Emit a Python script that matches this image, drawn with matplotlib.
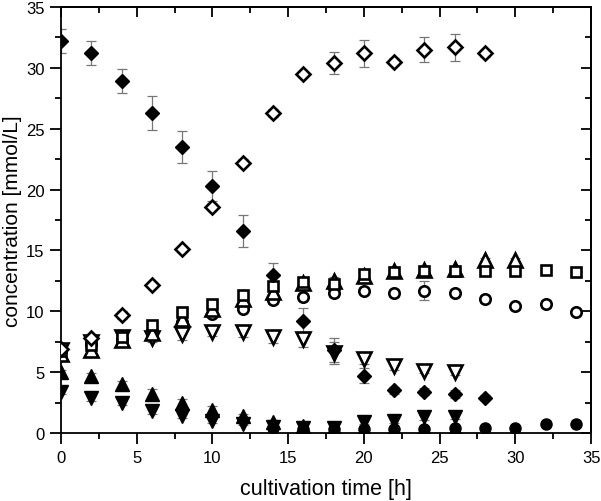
import matplotlib
matplotlib.use("Agg")
import matplotlib.pyplot as plt
from matplotlib.ticker import MultipleLocator

plt.rcParams['font.family'] = ['Liberation Sans', 'DejaVu Sans']

# --- data ---------------------------------------------------------------
t_fd = [0, 2, 4, 6, 8, 10, 12, 14, 16, 18, 20, 22, 24, 26, 28]
fd = [32.2, 31.2, 28.9, 26.3, 23.5, 20.3, 16.6, 13.0, 9.2, 6.8, 4.7, 3.5, 3.4, 3.2, 2.9]
fd_err = [1.0, 1.0, 1.0, 1.4, 1.3, 1.2, 1.3, 1.0, 1.1, 1.0, 0.6, 0.3, 0.3, 0.3, 0.2]

t_od = [0, 2, 4, 6, 8, 10, 12, 14, 16, 18, 20, 22, 24, 26, 28]
od = [6.9, 7.8, 9.7, 12.2, 15.1, 18.6, 22.2, 26.3, 29.5, 30.4, 31.2, 30.5, 31.5, 31.7, 31.2]
od_err = [0.2, 0.3, 0.3, 0.2, 0.2, 0.3, 0.3, 0.3, 0.2, 0.9, 1.1, 0.3, 1.0, 1.1, 0.3]

t_sq = [0, 2, 4, 6, 8, 10, 12, 14, 16, 18, 20, 22, 24, 26, 28, 30, 32, 34]
sq = [6.7, 7.2, 7.85, 8.9, 9.9, 10.6, 11.3, 12.1, 12.4, 12.25, 13.1, 13.2, 13.3, 13.3, 13.3, 13.3, 13.4, 13.2]
sq_err = [0.3, 0.3, 0.3, 0.3, 0.3, 0.3, 0.3, 0.3, 0.3, 0.3, 0.3, 0.3, 0.4, 0.3, 0.3, 0.4, 0.3, 0.4]

t_tu = [0, 2, 4, 6, 8, 10, 12, 14, 16, 18, 20, 22, 24, 26, 28, 30]
tu = [6.5, 6.8, 7.6, 8.2, 9.4, 10.2, 11.0, 11.6, 12.3, 12.5, 12.9, 13.3, 13.4, 13.45, 14.2, 14.2]
tu_err = [0.3, 0.3, 0.3, 0.3, 0.3, 0.3, 0.3, 0.3, 0.3, 0.3, 0.3, 0.3, 0.3, 0.3, 0.2, 0.2]

t_oc = [0, 2, 4, 6, 8, 10, 12, 14, 16, 18, 20, 22, 24, 26, 28, 30, 32, 34]
oc = [6.7, 7.3, 7.7, 8.4, 9.1, 9.8, 10.2, 10.9, 11.2, 11.5, 11.7, 11.5, 11.7, 11.5, 11.0, 10.4, 10.6, 9.9]
oc_err = [0.3, 0.3, 0.3, 0.3, 0.3, 0.3, 0.3, 0.3, 0.3, 0.3, 0.3, 0.3, 0.8, 0.3, 0.3, 0.3, 0.3, 0.3]

t_td = [0, 2, 4, 6, 8, 10, 12, 14, 16, 18, 20, 22, 24, 26]
td = [6.8, 7.5, 7.85, 7.8, 8.1, 8.3, 8.3, 7.9, 7.7, 6.6, 6.1, 5.5, 5.1, 5.0]
td_err = [0.3, 0.3, 0.3, 0.3, 0.5, 0.3, 0.4, 0.5, 0.6, 0.9, 0.4, 0.3, 0.2, 0.2]

t_ftu = [0, 2, 4, 6, 8, 10, 12, 14, 16, 18, 20, 22, 24, 26]
ftu = [5.0, 4.65, 4.0, 3.2, 2.5, 1.9, 1.4, 0.9, 0.6, 0.4, 0.3, 0.3, 0.3, 0.3]
ftu_err = [0.2, 0.3, 0.3, 0.4, 0.3, 0.3, 0.2, 0.2, 0.1, 0.1, 0.1, 0.1, 0.1, 0.1]

t_ftd = [0, 2, 4, 6, 8, 10, 12, 14, 16, 18, 20, 22, 24, 26]
ftd = [3.4, 2.85, 2.5, 1.8, 1.4, 1.0, 0.75, 0.5, 0.4, 0.4, 0.9, 1.0, 1.3, 1.35]
ftd_err = [0.2, 0.2, 0.2, 0.2, 0.2, 0.2, 0.1, 0.1, 0.1, 0.1, 0.2, 0.2, 0.2, 0.2]

t_fc = [14, 16, 18, 20, 22, 24, 26, 28, 30, 32, 34]
fc = [0.4, 0.35, 0.3, 0.3, 0.33, 0.35, 0.4, 0.4, 0.45, 0.7, 0.75]
fc_err = [0.1, 0.1, 0.1, 0.1, 0.1, 0.1, 0.1, 0.1, 0.1, 0.1, 0.1]

xticks = [0, 5, 10, 15, 20, 25, 30, 35]
yticks = [0, 5, 10, 15, 20, 25, 30, 35]

# --- figure -------------------------------------------------------------
fig = plt.figure(figsize=(6.01, 5.02), dpi=100)
ax = fig.add_axes([0.1015, 0.1355, 0.882, 0.8485])

ecol = '#777777'
err_kw = dict(fmt='none', ecolor=ecol, elinewidth=0.9, capsize=3.5, capthick=0.9, zorder=2)
open_kw = dict(linestyle='none', markerfacecolor='white', markeredgecolor='black', markeredgewidth=1.9)
fill_kw = dict(linestyle='none', markerfacecolor='black', markeredgecolor='black', markeredgewidth=1.0)

series = [
    (t_fc, fc, fc_err, 'o', 8, fill_kw),
    (t_ftu, ftu, ftu_err, '^', 9.5, fill_kw),
    (t_ftd, ftd, ftd_err, 'v', 9.5, fill_kw),
    (t_oc, oc, oc_err, 'o', 7.5, open_kw),
    (t_td, td, td_err, 'v', 9.5, open_kw),
    (t_tu, tu, tu_err, '^', 9.5, open_kw),
    (t_sq, sq, sq_err, 's', 6.5, open_kw),
    (t_od, od, od_err, 'D', 7.5, open_kw),
    (t_fd, fd, fd_err, 'D', 7.5, fill_kw),
]
for i, (tx, yv, ye, mk, ms, kw) in enumerate(series):
    ax.errorbar(tx, yv, yerr=ye, **err_kw)
for i, (tx, yv, ye, mk, ms, kw) in enumerate(series):
    ax.plot(tx, yv, marker=mk, markersize=ms, zorder=3 + i * 0.1, **kw)

ax.set_xlim(0, 35)
ax.set_ylim(0, 35)
ax.set_xticks(xticks)
ax.set_yticks(yticks)
ax.xaxis.set_minor_locator(MultipleLocator(2.5))
ax.yaxis.set_minor_locator(MultipleLocator(2.5))
for s in ax.spines.values():
    s.set_linewidth(1.3)
ax.tick_params(which='major', direction='out', length=8, width=1.3, labelsize=12, pad=4)
ax.tick_params(which='minor', direction='out', length=4.5, width=1.3)

# mirrored inward ticks on top and right
axt = ax.secondary_xaxis('top')
axt.set_xticks(xticks)
axt.xaxis.set_minor_locator(MultipleLocator(2.5))
axt.tick_params(which='major', direction='in', length=7, width=1.3, labeltop=False)
axt.tick_params(which='minor', direction='in', length=4, width=1.3)
axr = ax.secondary_yaxis('right')
axr.set_yticks(yticks)
axr.yaxis.set_minor_locator(MultipleLocator(2.5))
axr.tick_params(which='major', direction='in', length=7, width=1.3, labelright=False)
axr.tick_params(which='minor', direction='in', length=4, width=1.3)
axt.spines['top'].set_linewidth(1.3)
axr.spines['right'].set_linewidth(1.3)

ax.set_xlabel('cultivation time [h]', fontsize=15.5)
ax.set_ylabel('concentration [mmol/L]', fontsize=15)
ax.xaxis.set_label_coords(0.5, -0.105)
ax.yaxis.set_label_coords(-0.074, 0.5)

fig.savefig('out.png', dpi=100)
